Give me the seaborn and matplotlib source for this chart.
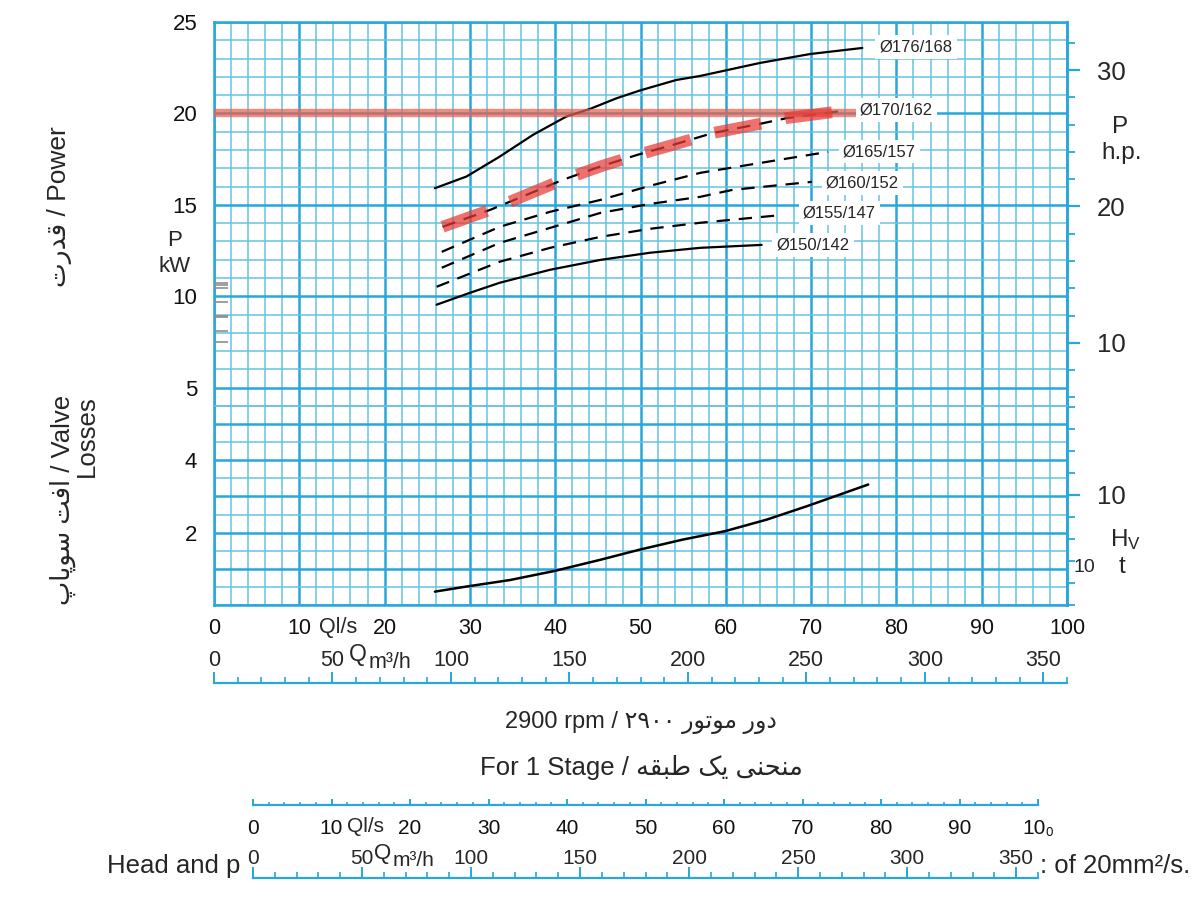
import seaborn as sns
import matplotlib.pyplot as plt
from matplotlib.ticker import MultipleLocator
from matplotlib.transforms import blended_transform_factory

# power curves: flow Q (l/s) vs power P (kW)
q_176 = [25.9, 29.6, 33.5, 37.4, 41.3, 44.1, 47.2, 49.9, 54.2, 57.0, 64.0, 69.9, 76.0]
p_176 = [15.91, 16.55, 17.64, 18.83, 19.83, 20.25, 20.83, 21.25, 21.83, 22.05, 22.76, 23.25, 23.58]
q_170 = [26.8, 32.4, 40.9, 45.3, 49.6, 53.8, 58.5, 64.0, 67.2, 73.7]
p_170 = [13.80, 14.73, 16.37, 17.10, 17.73, 18.28, 18.93, 19.43, 19.75, 20.14]
q_165 = [26.7, 33.5, 39.4, 45.3, 51.1, 57.0, 64.8, 72.0]
p_165 = [12.43, 13.80, 14.62, 15.27, 16.04, 16.75, 17.35, 17.90]
q_160 = [26.7, 33.5, 39.4, 45.3, 51.1, 57.0, 60.8, 70.1]
p_160 = [11.56, 12.92, 13.74, 14.56, 15.05, 15.44, 15.82, 16.26]
q_155 = [26.1, 33.5, 39.4, 45.3, 51.1, 57.0, 66.7]
p_155 = [10.52, 11.89, 12.65, 13.25, 13.69, 14.02, 14.45]
q_150 = [26.1, 30.0, 33.5, 39.4, 45.3, 51.1, 57.0, 64.2]
p_150 = [9.54, 10.19, 10.74, 11.45, 11.99, 12.38, 12.65, 12.81]

# valve losses
q_valve = [25.9, 29.6, 34.7, 39.9, 45.3, 49.9, 55.0, 59.9, 64.8, 69.5, 76.7]
h_valve = [0.37, 0.51, 0.69, 0.94, 1.25, 1.53, 1.81, 2.04, 2.36, 2.73, 3.33]

diameters = ['Ø176/168', 'Ø170/162', 'Ø165/157', 'Ø160/152', 'Ø155/147', 'Ø150/142']
label_q = [82.3, 80.0, 78.0, 76.0, 73.3, 70.2]
label_p = [23.63, 20.19, 17.90, 16.20, 14.56, 12.81]

limit_kw = 20
gray_marks = [10.72, 10.60, 10.48, 9.70, 8.90, 8.84, 8.11, 7.51]

qls_ticks = list(range(0, 101, 10))
m3h_ticks = list(range(0, 351, 50))

sns.set_theme(style='white')
plt.rcParams['font.family'] = ['Liberation Sans', 'DejaVu Sans']
plt.rcParams['mathtext.default'] = 'regular'

BLUE = '#27a7da'
MINOR = '#66c2e2'


def fx(px):
    return px / 1200


def fy(py):
    return 1 - py / 900


fig = plt.figure(figsize=(12, 9), dpi=100)
L, W = fx(214), fx(1067) - fx(214)
ax1 = fig.add_axes([L, fy(406), W, fy(22) - fy(406)])
ax2 = fig.add_axes([L, fy(605), W, fy(406) - fy(605)])

for ax in (ax1, ax2):
    ax.set_xlim(0, 100)
    ax.xaxis.set_major_locator(MultipleLocator(10))
    ax.xaxis.set_minor_locator(MultipleLocator(2))
    ax.grid(which='major', color=BLUE, lw=1.8)
    ax.grid(which='minor', color=MINOR, lw=1.1)
    ax.set_axisbelow(True)
    ax.tick_params(which='both', length=0, labelsize=16, colors='#111111')
    for s in ax.spines.values():
        s.set_color(BLUE)
        s.set_linewidth(1.8)
    ax.set_xlabel('')
    ax.set_ylabel('')

ax1.set_ylim(4, 25)
ax1.yaxis.set_major_locator(MultipleLocator(5))
ax1.yaxis.set_minor_locator(MultipleLocator(1))
ax1.set_yticks([5, 10, 15, 20, 25])
ax1.tick_params(axis='x', labelbottom=False)
ax1.tick_params(axis='y', pad=12)
ax1.spines['bottom'].set_visible(False)

ax2.set_ylim(0, 5.5)
ax2.set_yticks(range(6), labels=['', '', '2', '', '4', ''])
ax2.yaxis.set_minor_locator(MultipleLocator(0.5))
ax2.spines['top'].set_color(MINOR)
ax2.spines['top'].set_linewidth(1.1)
ax2.set_xticks(qls_ticks, labels=[str(v) for v in qls_ticks])
ax2.tick_params(axis='x', labelsize=15.5, pad=9)
ax2.tick_params(axis='y', pad=12)

# curves
dash = (0, (6, 4))
sns.lineplot(x=q_176, y=p_176, ax=ax1, color='black', lw=1.6)
sns.lineplot(x=q_170, y=p_170, ax=ax1, color='black', lw=1.6, linestyle=dash)
sns.lineplot(x=q_165, y=p_165, ax=ax1, color='black', lw=1.6, linestyle=dash)
sns.lineplot(x=q_160, y=p_160, ax=ax1, color='black', lw=1.6, linestyle=dash)
sns.lineplot(x=q_155, y=p_155, ax=ax1, color='black', lw=1.6, linestyle=dash)
sns.lineplot(x=q_150, y=p_150, ax=ax1, color='black', lw=1.6)

# red highlight
ax1.hlines(limit_kw, 0, 80, color='#e8604f', lw=6, alpha=0.72, zorder=4)
sns.lineplot(x=q_170, y=p_170, ax=ax1, color='#e83a35', lw=8.5, alpha=0.72,
             linestyle=(0, (4, 2.1)), zorder=5)

for name, xq, yp in zip(diameters, label_q, label_p):
    ax1.text(xq, yp, name, ha='center', va='center', fontsize=12, zorder=7,
             bbox=dict(facecolor='white', edgecolor='none', pad=3))

ax1.hlines(gray_marks, 0, 1.6, color='#8d8d8d', lw=1.2, zorder=4)

sns.lineplot(x=q_valve, y=h_valve, ax=ax2, color='black', lw=1.8)

# right hand scales
sec1 = ax1.secondary_yaxis('right', functions=(lambda k: k / 0.7457, lambda h: h * 0.7457))
sec1.set_yticks([10, 20, 30])
sec1.yaxis.set_minor_locator(MultipleLocator(2))
sec1.tick_params(which='major', direction='out', length=9.5, width=1.6, color=BLUE,
                 labelsize=18.5, pad=12)
sec1.tick_params(which='minor', direction='out', length=5.5, width=1.3, color=BLUE)
sec1.spines['right'].set_color(BLUE)
sec1.spines['right'].set_linewidth(1.8)

sec2 = ax2.secondary_yaxis('right', functions=(lambda m: m * 3.281, lambda f: f / 3.281))
sec2.set_yticks([10])
sec2.yaxis.set_minor_locator(MultipleLocator(2))
sec2.tick_params(which='major', direction='out', length=9.5, width=1.6, color=BLUE,
                 labelsize=18.5, pad=12)
sec2.tick_params(which='minor', direction='out', length=5.5, width=1.3, color=BLUE)
sec2.spines['right'].set_color(BLUE)
sec2.spines['right'].set_linewidth(1.8)

# m3/h row under the main chart
tr2 = blended_transform_factory(ax2.transData, fig.transFigure)
for v in m3h_ticks:
    ax2.text(v / 3.6, fy(661), str(v), transform=tr2, ha='center', va='center', fontsize=15.5)
ax2.text(14.5, fy(627), 'Ql/s', transform=tr2, ha='center', va='center', fontsize=15.5)
ax2.text(16.9, fy(654), 'Q', transform=tr2, ha='center', va='center', fontsize=16.5)
ax2.text(20.6, fy(662), 'm³/h', transform=tr2, ha='center', va='center', fontsize=15.5)

ax3 = fig.add_axes([L, fy(683), W, 0.02])
ax4 = fig.add_axes([fx(253), fy(805), fx(1038) - fx(253), 0.02])
ax5 = fig.add_axes([fx(253), fy(878), fx(1038) - fx(253), 0.02])
for ax, lim, major, minor, lmaj, lmin in [(ax3, 360, 50, 10, 8, 4.5),
                                          (ax4, 100, 10, 2, 4.5, 2.5),
                                          (ax5, 360, 50, 10, 8, 4.5)]:
    ax.set_xlim(0, lim)
    ax.set_ylim(0, 1)
    ax.patch.set_alpha(0)
    ax.grid(False)
    for s in ['top', 'left', 'right']:
        ax.spines[s].set_visible(False)
    ax.spines['bottom'].set_color(BLUE)
    ax.spines['bottom'].set_linewidth(1.6)
    ax.set_yticks([])
    ax.xaxis.set_major_locator(MultipleLocator(major))
    ax.xaxis.set_minor_locator(MultipleLocator(minor))
    ax.tick_params(axis='x', which='major', direction='in', length=lmaj, width=1.4, color=BLUE,
                   labelbottom=False, bottom=True)
    ax.tick_params(axis='x', which='minor', direction='in', length=lmin, width=1.2, color=BLUE,
                   bottom=True)

ax4.set_xticks(qls_ticks, labels=[str(v) for v in qls_ticks[:-1]] + ['10₀'])
ax4.tick_params(axis='x', which='major', labelbottom=True, labelsize=15, pad=10,
                labelcolor='#111111', color=BLUE)
tr4 = blended_transform_factory(ax4.transData, fig.transFigure)
ax4.text(14.3, fy(826), 'Ql/s', transform=tr4, ha='center', va='center', fontsize=15)
tr5 = blended_transform_factory(ax5.transData, fig.transFigure)
for v in m3h_ticks:
    ax5.text(v, fy(858), str(v), transform=tr5, ha='center', va='center', fontsize=15)
ax5.text(59.6, fy(853), 'Q', transform=tr5, ha='center', va='center', fontsize=16)
ax5.text(73.5, fy(860), 'm³/h', transform=tr5, ha='center', va='center', fontsize=15)

# texts
fig.text(fx(175), fy(240), 'P', ha='center', va='center', fontsize=16)
fig.text(fx(175), fy(267), 'kW', ha='center', va='center', fontsize=16)
fig.text(fx(1120), fy(127), 'P', ha='center', va='center', fontsize=17.5)
fig.text(fx(1122), fy(153), 'h.p.', ha='center', va='center', fontsize=17.5)
fig.text(fx(1126), fy(540), 'H$_V$', ha='center', va='center', fontsize=17.5)
fig.text(fx(1122), fy(567), 't', ha='center', va='center', fontsize=17.5)
fig.text(fx(1084), fy(567), '10', ha='center', va='center', fontsize=14)

power_fa = '\ufe95\ufead\ufeaa\ufed7'
fig.text(fx(60), fy(207), power_fa + ' / Power', rotation=90, ha='center', va='center', fontsize=19)
valve_fa = '\ufb56\ufe8e\ufb58\ufeee\ufeb3 \ufe96\ufed3\ufe8d'
fig.text(fx(74), fy(500), valve_fa + ' / Valve\nLosses', rotation=90, ha='center', va='center',
         fontsize=18.5, multialignment='right', linespacing=0.95)

rpm_fa = '\u06f2\u06f9\u06f0\u06f0 \ufead\ufeee\ufe97\ufeee\ufee3 \ufead\ufeed\ufea9'
fig.text(fx(641), fy(722), '2900 rpm / ' + rpm_fa, ha='center', va='center', fontsize=17)
stage_fa = '\ufeea\ufed8\ufe92\ufec3 \ufb8f\ufef3 \ufef0\ufee8\ufea4\ufee8\ufee3'
fig.text(fx(641), fy(767), 'For 1 Stage / ' + stage_fa, ha='center', va='center', fontsize=18.5)

fig.text(fx(240), fy(866), 'Head and p', ha='right', va='center', fontsize=18.5)
fig.text(fx(1040), fy(866), ': of 20mm²/s.', ha='left', va='center', fontsize=18.5)

fig.savefig('out.png', dpi=100)
